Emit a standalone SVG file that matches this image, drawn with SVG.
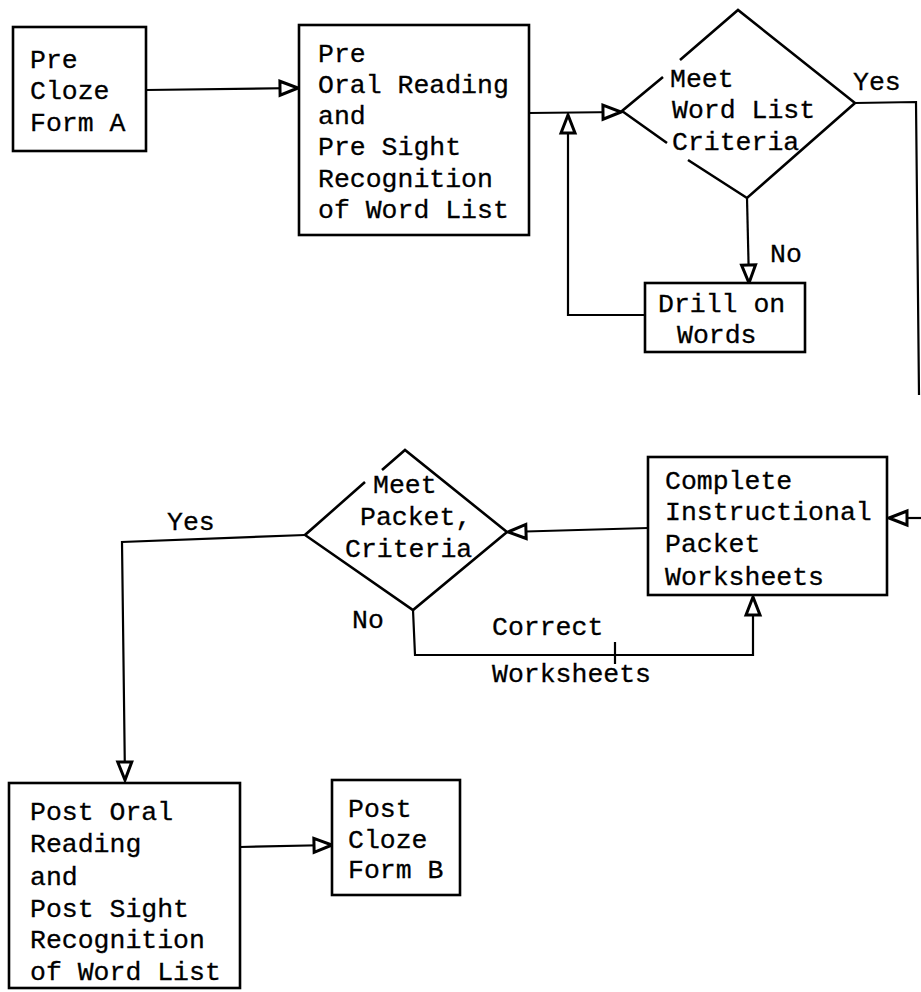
<svg xmlns="http://www.w3.org/2000/svg" width="921" height="992" viewBox="0 0 921 992">
<defs>
<marker id="arr" markerUnits="userSpaceOnUse" markerWidth="24" markerHeight="20" viewBox="0 0 24 20" refX="21" refY="10" orient="auto">
<path d="M3,3 L21,10 L3,17 z" fill="#fff" stroke="#000" stroke-width="3" stroke-linejoin="miter"/>
</marker>
</defs>
<style>
.box, .shape { fill: #fff; stroke: #000; stroke-width: 2.6; }
.shape { fill: none; }
.conn path { fill: none; stroke: #000; stroke-width: 2.2; }
text { font-family: "Liberation Mono", "Courier New", monospace; font-size: 26.5px; fill: #000; stroke: #000; stroke-width: 0.3; }
</style>
<rect width="921" height="992" fill="#fff"/>

<g class="conn" id="connectors">
<path d="M146,90 L298,88" marker-end="url(#arr)"/>
<path d="M529,113 L621,112" marker-end="url(#arr)"/>
<path d="M645,315 L568,315 L568,115" marker-end="url(#arr)"/>
<path d="M747,198 L749,283" marker-end="url(#arr)"/>
<path d="M855,103 L916,102 L919,395"/>
<path d="M921,518 L889,518" marker-end="url(#arr)"/>
<path d="M648,528 L508,532" marker-end="url(#arr)"/>
<path d="M413,610 L415,655 L753,655 L753,597" marker-end="url(#arr)"/>
<path d="M615,642 L615,664"/>
<path d="M305,535 L122,542 L125,780" marker-end="url(#arr)"/>
<path d="M240,847 L332,845" marker-end="url(#arr)"/>
</g>

<g id="preCloze">
<rect class="box" x="13" y="27" width="133" height="124"/>
<text x="30" y="68">Pre</text>
<text x="30" y="99">Cloze</text>
<text x="30" y="131">Form A</text>
</g>

<g id="preOral">
<rect class="box" x="299" y="25" width="230" height="210"/>
<text x="318" y="62">Pre</text>
<text x="318" y="93">Oral Reading</text>
<text x="318" y="124">and</text>
<text x="318" y="155">Pre Sight</text>
<text x="318" y="187">Recognition</text>
<text x="318" y="218">of Word List</text>
</g>

<g id="wordListDecision">
<path class="shape" d="M680,60 L738,10 L855,103 L747,198 L688,160"/>
<path class="shape" d="M663,77 L622,111 L667,143"/>
<text x="670" y="87">Meet</text>
<text x="672" y="118">Word List</text>
<text x="672" y="150">Criteria</text>
</g>

<g id="drill">
<rect class="box" x="645" y="283" width="160" height="69"/>
<text x="658" y="312">Drill on</text>
<text x="677" y="343">Words</text>
</g>

<g id="complete">
<rect class="box" x="648" y="457" width="239" height="138"/>
<text x="665" y="489">Complete</text>
<text x="665" y="520">Instructional</text>
<text x="665" y="552">Packet</text>
<text x="665" y="585">Worksheets</text>
</g>

<g id="packetDecision">
<path class="shape" d="M382,470 L405,450 L507,532 L413,610 L305,535 L365,482"/>
<text x="373" y="493">Meet</text>
<text x="360" y="525">Packet,</text>
<text x="345" y="557">Criteria</text>
</g>

<g id="postOral">
<rect class="box" x="9" y="783" width="231" height="205"/>
<text x="30" y="820">Post Oral</text>
<text x="30" y="852">Reading</text>
<text x="30" y="885">and</text>
<text x="30" y="917">Post Sight</text>
<text x="30" y="948">Recognition</text>
<text x="30" y="980">of Word List</text>
</g>

<g id="postCloze">
<rect class="box" x="332" y="780" width="128" height="115"/>
<text x="348" y="817">Post</text>
<text x="348" y="848">Cloze</text>
<text x="348" y="878">Form B</text>
</g>

<g id="labels">
<text x="853" y="90">Yes</text>
<text x="770" y="262">No</text>
<text x="167" y="530">Yes</text>
<text x="352" y="628">No</text>
<text x="492" y="635">Correct</text>
<text x="492" y="682">Worksheets</text>
</g>
</svg>
